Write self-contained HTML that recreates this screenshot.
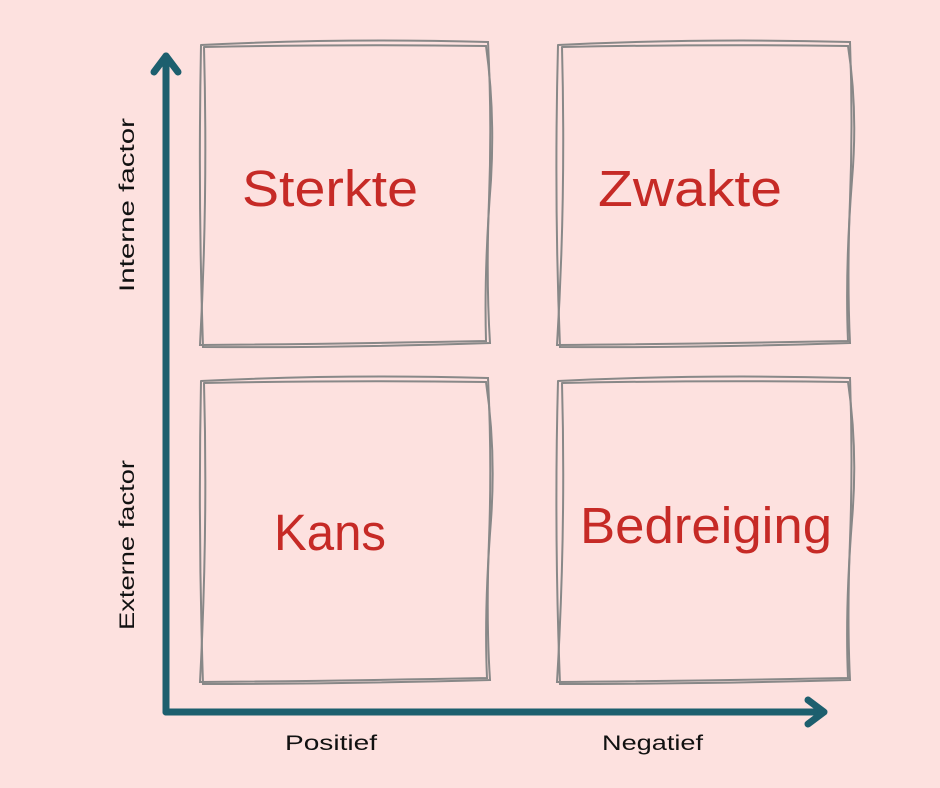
<!DOCTYPE html>
<html><head><style>
body{margin:0;background:#fde1df;}
svg{display:block}
text{font-family:"Liberation Sans",sans-serif}
</style></head><body>
<svg width="940" height="788" viewBox="0 0 940 788">
<rect width="940" height="788" fill="#fde1df"/>
<g fill="none" stroke="#888" stroke-width="2" stroke-linecap="round">
<path d="M201 45 Q340 38 488 42 Q492 120 489 200 Q486 280 490 343 Q340 348 203 347 Q198 200 201 45"/>
<path d="M204 47 Q350 44 486 46 Q495 110 491 180 Q484 270 486 341 Q330 344 200 345 Q208 200 204 47"/>
<path d="M558 45 Q700 38 850 42 Q853 120 850 200 Q847 280 850 343 Q700 348 560 347 Q554 200 558 45"/>
<path d="M562 47 Q710 44 848 46 Q858 110 852 180 Q845 270 848 341 Q690 344 557 345 Q566 200 562 47"/>
<path d="M201 381 Q340 374 488 378 Q492 460 489 540 Q486 620 490 680 Q340 684 203 684 Q198 530 201 381"/>
<path d="M204 383 Q350 380 486 382 Q496 450 491 520 Q484 610 487 678 Q330 681 200 682 Q208 530 204 383"/>
<path d="M558 381 Q700 374 850 378 Q853 460 850 540 Q847 620 850 680 Q700 684 560 684 Q554 530 558 381"/>
<path d="M562 383 Q710 380 848 382 Q858 450 852 520 Q845 610 848 678 Q690 681 557 682 Q566 530 562 383"/>
</g>
<g stroke="#1d5f6e" stroke-width="7" fill="none" stroke-linecap="round" stroke-linejoin="round">
<path d="M166 712 L166 56"/>
<path d="M154 72 L166 56 L178 72"/>
<path d="M166 712 L822 712"/>
<path d="M808 700 L824 712 L808 724"/>
</g>
<g fill="#c62a26" font-size="51">
<text x="242" y="206" textLength="176" lengthAdjust="spacingAndGlyphs">Sterkte</text>
<text x="598" y="206" textLength="184" lengthAdjust="spacingAndGlyphs">Zwakte</text>
<text x="274" y="550" textLength="112" lengthAdjust="spacingAndGlyphs">Kans</text>
<text x="580" y="543" textLength="252" lengthAdjust="spacingAndGlyphs">Bedreiging</text>
</g>
<g fill="#111" font-size="21">
<text x="285" y="750" textLength="92" lengthAdjust="spacingAndGlyphs">Positief</text>
<text x="602" y="750" textLength="101" lengthAdjust="spacingAndGlyphs">Negatief</text>
<text transform="translate(134 292) rotate(-90)" textLength="174" lengthAdjust="spacingAndGlyphs">Interne factor</text>
<text transform="translate(134 630) rotate(-90)" textLength="170" lengthAdjust="spacingAndGlyphs">Externe factor</text>
</g>
</svg>
</body></html>
